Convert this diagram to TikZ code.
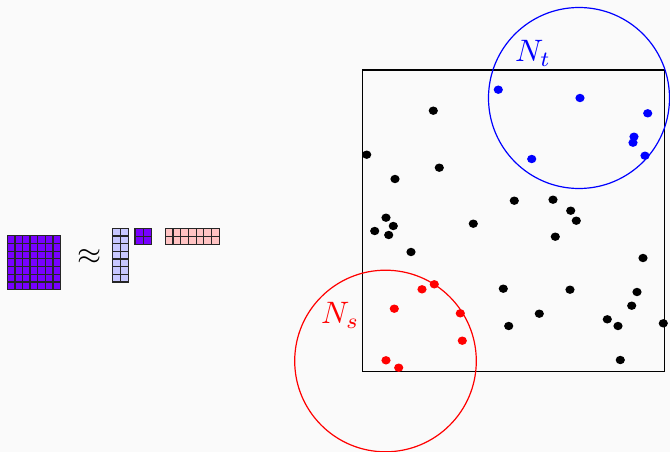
\documentclass[tikz,border=0pt]{standalone}
\usepackage{graphicx}
\usepackage{tikz}
\definecolor{bgc}{RGB}{250,250,250}
\definecolor{mpurple}{RGB}{120,0,255}
\definecolor{mblue}{RGB}{200,200,255}
\definecolor{mpink}{RGB}{255,195,195}
\newcommand{\gridblock}[7]{%
  \pgfmathsetmacro{\cw}{#3/#5}\pgfmathsetmacro{\ch}{#4/#6}%
  \pgfmathtruncatemacro{\nxm}{#5-1}\pgfmathtruncatemacro{\nym}{#6-1}%
  \foreach \ii in {0,...,\nxm}{\foreach \jj in {0,...,\nym}{%
    \draw[cellline,fill=#7] ({#1+\ii*\cw},{#2+\jj*\ch}) rectangle ++(\cw,\ch);}}%
}
\newcommand{\bigtxt}[1]{\scalebox{3.1}{#1}}
\tikzset{
  cellline/.style={draw=black!85,line width=1.25pt},
  bdot/.style={fill=black},
  rdot/.style={fill=red},
  udot/.style={fill=blue},
  lbl/.style={inner sep=0pt}
}
\begin{document}
\begin{tikzpicture}[x=1pt,y=-1pt]
\fill[bgc] (0,0) rectangle (670,452);
\useasboundingbox (0,0) rectangle (670,452);
% matrices
\gridblock{7.3}{235.7}{53.2}{54}{7}{7}{mpurple}
\node[lbl] (approx) at (90,257) {\bigtxt{$\approx$}};
\gridblock{112.3}{228.3}{16.4}{53.7}{2}{7}{mblue}
\gridblock{135}{228.3}{16.6}{16}{2}{2}{mpurple}
\gridblock{165.3}{228.3}{54}{16}{7}{2}{mpink}
% box
\draw[line width=1.2pt] (362.3,70) rectangle (664.7,371.8);
% black dots
\foreach \p in {(433.3,110.7),(366.7,154.7),(439.3,167.7),(395,179),(514.3,200.7),(553,199.7),(570.7,210.7),(576.3,220.7),(386,217.7),(393.3,226),(374.7,231),(388.7,235),(473.3,223.7),(555.3,236.7),(411,252),(643,258),(503.3,288.7),(570,289.7),(637,292),(631.7,305.7),(539.3,313.7),(607.3,319.3),(618,326),(508.7,326),(663.3,323.3),(620.3,360)}
  \fill[bdot] \p ellipse (4.6pt and 4.2pt);
% red dots
\foreach \p in {(434.3,284.3),(422,289.3),(394.3,308.7),(460.3,313.3),(462.3,340.7),(386,360.3),(398.7,367.7)}
  \fill[rdot] \p ellipse (4.6pt and 4.2pt);
% blue dots
\foreach \p in {(498.3,89.7),(580,98),(647.7,113.3),(634,136.7),(633,142.7),(645,155.7),(531.7,159)}
  \fill[udot] \p ellipse (4.6pt and 4.2pt);
% neighbourhoods
\draw[blue,line width=1.2pt] (579,98) circle (90.5pt);
\draw[red,line width=1.2pt] (385.5,361) circle (90.8pt);
\node[lbl,text=blue,anchor=base west] (nt) at (515,62) {\bigtxt{$N_t$}};
\node[lbl,text=red,anchor=base west] (ns) at (321,323.5) {\bigtxt{$N_s$}};
\end{tikzpicture}
\end{document}
